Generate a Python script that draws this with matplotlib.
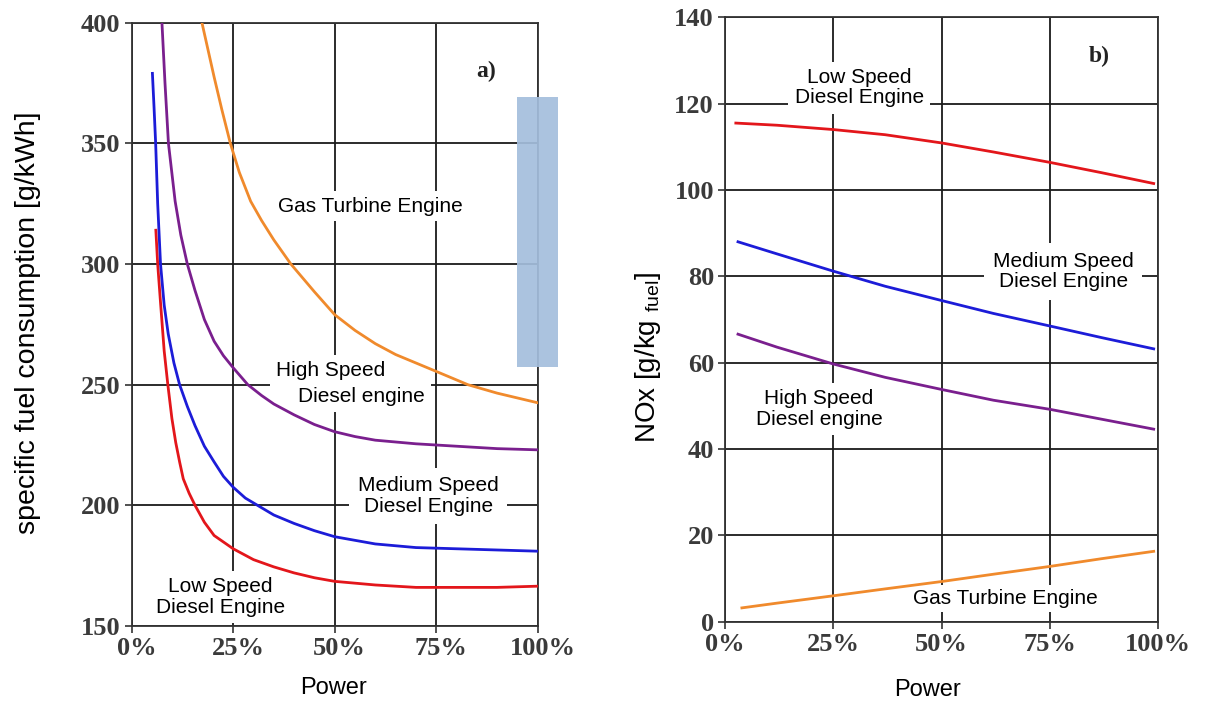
import matplotlib
matplotlib.use("Agg")
import matplotlib.pyplot as plt
import matplotlib.transforms as mtransforms
from matplotlib.patches import Rectangle

# Dados lidos do grafico a) - consumo especifico [g/kWh]
low_x = [5.95, 6.4, 7.1, 8.0, 8.9, 9.9, 10.85, 11.8, 12.7, 14.15, 15.6, 17.9, 20.3, 25, 30, 35, 40, 45, 50, 60, 70, 80, 90, 100]
low_y = [314, 300, 284, 264, 250, 236, 226, 218, 211, 205, 200, 193, 187.5, 182, 177.5, 174.5, 172, 170, 168.5, 167, 166, 166, 166, 166.5]

med_x = [5.1, 5.5, 5.9, 6.4, 7.1, 8.0, 9.0, 10.4, 11.8, 13.7, 15.6, 17.9, 20.3, 22.6, 25, 28, 31.5, 35, 40, 45, 50, 60, 70, 80, 90, 100]
med_y = [379, 365, 350, 325, 300, 283, 271, 259, 250, 241, 233, 224.5, 218, 212, 207.5, 203, 199.5, 196, 192.5, 189.5, 187, 184, 182.5, 182, 181.5, 181]

high_x = [7.45, 8.2, 9.05, 10.7, 12.1, 13.7, 15.6, 17.9, 20.3, 22.6, 25, 28.6, 32, 35, 40, 45, 50, 55, 60, 70, 80, 90, 100]
high_y = [400, 375, 350, 326, 312, 300, 289, 277, 268, 262, 257, 250, 245.5, 242, 237.5, 233.5, 230.5, 228.5, 227, 225.5, 224.5, 223.5, 223]

gas_x = [17.3, 18.9, 20.3, 22.2, 24.3, 26.5, 29.3, 32, 35, 39.2, 45, 50, 55, 60, 65, 70, 75, 82.8, 90, 100]
gas_y = [400, 388, 377.5, 364, 350, 338, 326, 318, 310, 300, 288.5, 279, 272.5, 267, 262.5, 259, 255.5, 250, 246.5, 242.5]

# Dados do grafico b) - NOx [g/kg fuel]
nox_x = [2.5, 12, 25, 37, 50, 62, 75, 87, 99]
nox_low = [115.5, 115, 114, 112.8, 110.9, 108.8, 106.4, 104, 101.5]
nox_x2 = [3, 12, 25, 37, 50, 62, 75, 87, 99]
nox_med = [88, 85.2, 81.2, 77.7, 74.4, 71.4, 68.5, 65.8, 63.2]
nox_high = [66.6, 63.6, 59.7, 56.6, 53.8, 51.3, 49.2, 46.9, 44.6]
nox_gx = [3.9, 12, 25, 37, 50, 62, 75, 87, 99]
nox_gas = [3.2, 4.3, 6, 7.6, 9.3, 11, 12.8, 14.6, 16.3]

x_ticks = [0, 25, 50, 75, 100]
x_labels = ["0%", "25%", "50%", "75%", "100%"]

c_red = "#e3161b"
c_blue = "#1c1cd8"
c_purple = "#7a1f8e"
c_orange = "#f08a2c"

plt.rcParams["mathtext.fontset"] = "custom"
plt.rcParams["mathtext.rm"] = "Liberation Sans"

fig = plt.figure(figsize=(12.1, 7.04), dpi=100)
W, H = 1210, 704

ax1 = fig.add_axes([131.7 / W, 1 - 626 / H, (537.7 - 131.7) / W, (626 - 22.7) / H])
ax2 = fig.add_axes([725 / W, 1 - 621.7 / H, (1158 - 725) / W, (621.7 - 17.3) / H])

tick_font = dict(family="Liberation Serif", size=19, weight="bold", color="#3a3a3a")
lab_font = dict(family="Liberation Sans", size=15)


def caixa(p):
    return dict(boxstyle="square,pad=%s" % p, fc="white", ec="none")


for ax in (ax1, ax2):
    ax.set_xticks(x_ticks)
    ax.set_xticklabels(x_labels, **tick_font)
    ax.grid(True, color="#1a1a1a", lw=1.3)
    ax.set_axisbelow(True)
    ax.tick_params(direction="out", length=5, width=1.2, color="#333333", pad=3)
    for s in ax.spines.values():
        s.set_color("#333333")
        s.set_linewidth(1.3)

# rotulos do eixo x do grafico a) um pouco deslocados para a direita
desloc = mtransforms.ScaledTranslation(5 / 100, 0, fig.dpi_scale_trans)
for lab in ax1.get_xticklabels():
    lab.set_transform(lab.get_transform() + desloc)

# Grafico a)
ax1.plot(low_x, low_y, color=c_red, lw=2, zorder=5)
ax1.plot(med_x, med_y, color=c_blue, lw=2, zorder=5)
ax1.plot(high_x, high_y, color=c_purple, lw=2, zorder=5)
ax1.plot(gas_x, gas_y, color=c_orange, lw=2, zorder=5)
ax1.set_xlim(0, 100)
ax1.set_ylim(150, 400)
ax1.set_yticks([150, 200, 250, 300, 350, 400])
ax1.set_yticklabels(["150", "200", "250", "300", "350", "400"], **tick_font)

ax1.text(58.8, 324, "Gas Turbine Engine", ha="center", va="center", bbox=caixa(0.25), zorder=4, **lab_font)
ax1.text(49.1, 255.8, "High Speed", ha="center", va="center", bbox=caixa(0.3), zorder=4, **lab_font)
ax1.text(56.6, 245.2, "Diesel engine", ha="center", va="center", bbox=caixa(0.3), zorder=4, **lab_font)
ax1.text(73.0, 203.9, "Medium Speed\nDiesel Engine", ha="center", va="center", linespacing=1.1,
         bbox=caixa(0.4), zorder=4, **lab_font)
ax1.text(21.9, 162, "Low Speed\nDiesel Engine", ha="center", va="center", linespacing=1.1,
         bbox=caixa(0.3), zorder=4, **lab_font)
ax1.text(87.4, 380, "a)", ha="center", va="center", family="Liberation Serif", size=17, weight="bold", color="#222222")

# Grafico b)
ax2.plot(nox_x, nox_low, color=c_red, lw=2, zorder=5)
ax2.plot(nox_x2, nox_med, color=c_blue, lw=2, zorder=5)
ax2.plot(nox_x2, nox_high, color=c_purple, lw=2, zorder=5)
ax2.plot(nox_gx, nox_gas, color=c_orange, lw=2, zorder=5)
ax2.set_xlim(0, 100)
ax2.set_ylim(0, 140)
ax2.set_yticks([0, 20, 40, 60, 80, 100, 120, 140])
ax2.set_yticklabels(["0", "20", "40", "60", "80", "100", "120", "140"], **tick_font)

ax2.text(31.0, 123.7, "Low Speed\nDiesel Engine", ha="center", va="center", linespacing=1.1,
         bbox=caixa(0.3), zorder=4, **lab_font)
ax2.text(78.1, 81.1, "Medium Speed\nDiesel Engine", ha="center", va="center", linespacing=1.1,
         bbox=caixa(0.4), zorder=4, **lab_font)
ax2.text(21.7, 49.3, "High Speed\nDiesel engine", ha="center", va="center", linespacing=1.1,
         bbox=caixa(0.3), zorder=4, **lab_font)
ax2.text(64.8, 5.4, "Gas Turbine Engine", ha="center", va="center", bbox=caixa(0.2), zorder=4, **lab_font)
ax2.text(86.4, 130.9, "b)", ha="center", va="center", family="Liberation Serif", size=17, weight="bold", color="#222222")

# Titulos dos eixos
fig.text(28 / W, 1 - 323 / H, "specific fuel consumption [g/kWh]", rotation=90, ha="center", va="center",
         family="Liberation Sans", size=20.5)
fig.text(648 / W, 1 - 357 / H, r"NOx [g/kg $_{\mathrm{fuel}}$]", rotation=90, ha="center", va="center",
         family="Liberation Sans", size=20)
fig.text(333 / W, 1 - 688 / H, "Power", ha="center", va="center", family="Liberation Sans", size=17)
fig.text(928 / W, 1 - 690 / H, "Power", ha="center", va="center", family="Liberation Sans", size=17)

# Retangulo azul
fig.add_artist(Rectangle((517 / W, 1 - 367 / H), 41 / W, 270 / H, transform=fig.transFigure,
                         fc="#a4bedd", ec="none", alpha=0.92, zorder=10))

fig.savefig("out.png", dpi=100)
